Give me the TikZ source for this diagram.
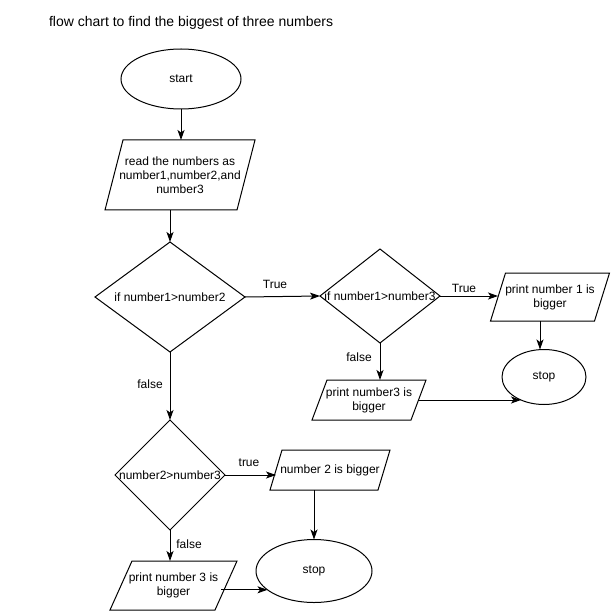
\documentclass[tikz,border=0pt]{standalone}
\usepackage{fontspec}
\setmainfont{Liberation Sans}
\usetikzlibrary{shapes.geometric,arrows.meta}
\newcommand\paral[2]{\draw ([xshift=#2]#1.north west) -- ([xshift=#2]#1.north east) -- ([xshift=-#2]#1.south east) -- ([xshift=-#2]#1.south west) -- cycle;}
\begin{document}
\begin{tikzpicture}[x=1pt,y=-1pt, line width=1pt,
  every node/.style={font=\fontsize{12}{14}\selectfont, inner sep=0pt, outer sep=0pt},
  term/.style={draw, ellipse},
  dec/.style={draw, diamond},
  io/.style={rectangle, align=center},
  arr/.style={-{Stealth[length=10pt,width=7pt,inset=2.5pt]}},
  lbl/.style={}
]
\useasboundingbox (0,0) rectangle (611,612);

\node[anchor=west, font=\fontsize{14}{16}\selectfont] (title) at (49,23) {flow chart to find the biggest of three numbers};

\node[term, minimum width=120pt, minimum height=60pt] (start) at (181,79) {start};
\node[io, minimum width=132pt, minimum height=70pt] (read) at (180,175) {read the numbers as\\number1,number2,and\\number3};
\paral{read}{9pt}

\node[dec, minimum width=150pt, minimum height=110pt, label={center:if number1>number2}] (d1) at (170,297) {};
\node[dec, minimum width=120pt, minimum height=94pt, label={center:if number1>number3}] (d2) at (380,296) {};
\node[dec, minimum width=110pt, minimum height=110pt, label={center:number2>number3}] (d3) at (170,475) {};

\node[io, minimum width=104pt, minimum height=48pt] (p1) at (550,297) {print number 1 is\\bigger};
\paral{p1}{7.5pt}
\node[io, minimum width=99pt, minimum height=40pt] (p3) at (369,400) {print number3 is\\bigger};
\paral{p3}{7.5pt}
\node[io, minimum width=108pt, minimum height=40pt] (p2) at (330,470) {number 2 is bigger};
\paral{p2}{6pt}
\node[io, minimum width=105pt, minimum height=49pt] (p4) at (173.5,585.5) {print number 3 is\\bigger};
\paral{p4}{11pt}

\node[term, minimum width=84pt, minimum height=55pt] (stop1) at (544,377) {stop};
\node[term, minimum width=116pt, minimum height=63pt] (stop2) at (314,571) {stop};

\node[lbl] (t1) at (275,284) {True};
\node[lbl] (t2) at (464,288) {True};
\node[lbl] (f1) at (359,357) {false};
\node[lbl] (f2) at (150,384) {false};
\node[lbl] (t3) at (249,463) {true};
\node[lbl] (f3) at (189,544) {false};

\draw[arr] (start.south) -- (start.south |- read.north);
\draw[arr] (d1.north |- read.south) -- (d1.north);
\draw[arr] (d1.east) -- (d2.west);
\draw[arr] (d2.east) -- (d2.east -| p1.west);
\draw[arr] ([xshift=-10pt]p1.south) -- ([xshift=-10pt]p1.south |- stop1.north);
\draw[arr] (d2.south) -- (d2.south |- p3.north);
\draw[arr] (p3.east) -- (p3.east -| stop1.225);
\draw[arr] (d1.south) -- (d3.north);
\draw[arr] (d3.east) -- (d3.east -| p2.west);
\draw[arr] (stop2.north |- p2.south) -- (stop2.north);
\draw[arr] (d3.south) -- (d3.south |- p4.north);
\draw[arr] ([xshift=-5pt]p4.east |- stop2.202) -- (stop2.202);
\end{tikzpicture}
\end{document}
